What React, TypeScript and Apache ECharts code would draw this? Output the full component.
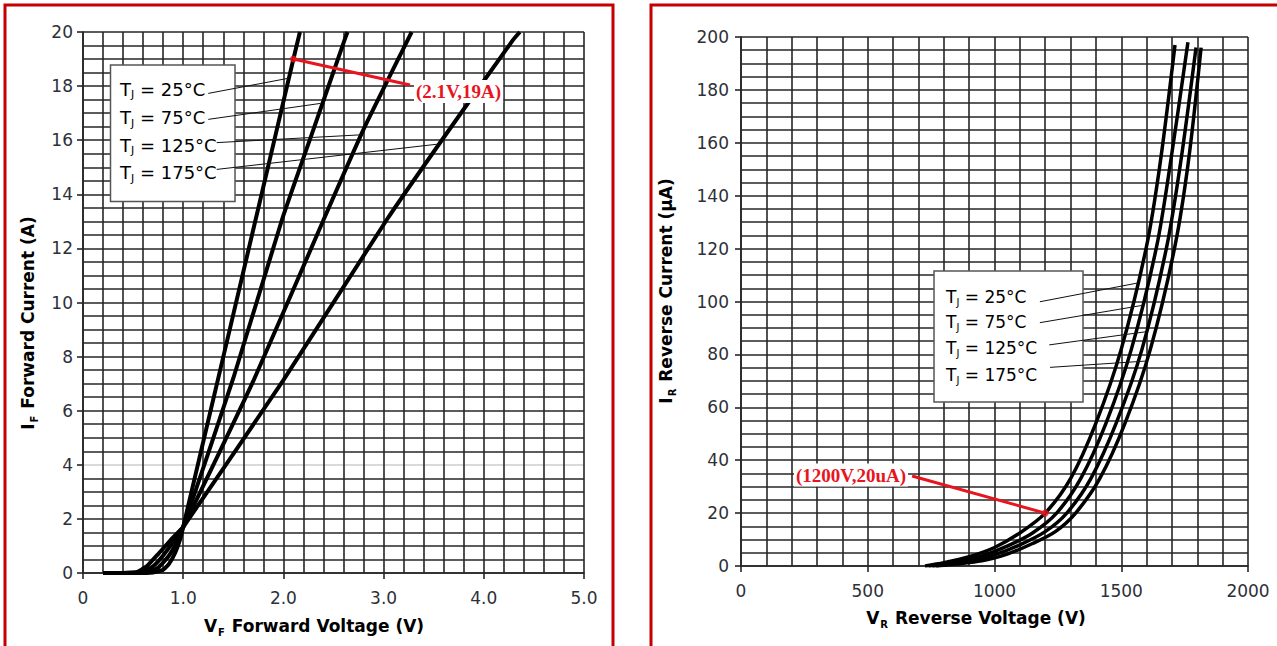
import React, { useEffect, useRef } from "react";
import * as echarts from "echarts";

// Forward characteristics, V_F (V) vs I_F (A), per junction temperature
const fwd25: number[][] = [[0.2, 0], [0.5, 0], [0.7, 0.02], [0.8, 0.12], [0.86, 0.35], [0.92, 0.75], [0.97, 1.25], [1.0, 1.7], [1.2, 4.85], [1.5, 9.56], [1.8, 14.28], [2.1, 19], [2.165, 20]];
const fwd75: number[][] = [[0.2, 0], [0.5, 0], [0.65, 0.03], [0.75, 0.2], [0.85, 0.6], [0.93, 1.1], [1.0, 1.7], [1.5, 7.2], [1.985, 13.05], [2.3, 16.4], [2.61, 19.7], [2.64, 20]];
const fwd125: number[][] = [[0.2, 0], [0.45, 0], [0.6, 0.04], [0.7, 0.25], [0.8, 0.65], [0.9, 1.15], [1.0, 1.7], [1.7, 7.1], [2.4, 13.05], [2.8, 16.4], [3.24, 19.7], [3.28, 20]];
const fwd175: number[][] = [[0.2, 0], [0.4, 0], [0.55, 0.05], [0.65, 0.3], [0.75, 0.7], [0.87, 1.2], [1.0, 1.7], [2.0, 7.13], [3.03, 13.05], [3.6, 16.1], [4.29, 19.7], [4.36, 20]];

// Reverse characteristics, V_R (V) vs I_R (µA)
const rev25: number[][] = [[726, 0], [800, 1.2], [900, 3.5], [1000, 7], [1100, 12.5], [1200, 20], [1300, 33], [1400, 54], [1500, 82], [1600, 121], [1653, 152], [1712, 197]];
const rev75: number[][] = [[740, 0], [850, 1.5], [950, 3.8], [1050, 7.5], [1150, 12.5], [1245, 20], [1340, 33], [1440, 54], [1540, 82], [1640, 121], [1695, 153], [1763, 198]];
const rev125: number[][] = [[755, 0], [900, 1.8], [1000, 4.2], [1100, 8], [1200, 13], [1285, 20], [1380, 33], [1480, 54], [1582, 82], [1680, 121], [1735, 153], [1795, 196]];
const rev175: number[][] = [[770, 0], [950, 2], [1050, 4.5], [1150, 8.5], [1240, 13], [1320, 20], [1415, 33], [1515, 54], [1615, 82], [1712, 121], [1765, 153], [1815, 196]];

const tempLabels = ["25", "75", "125", "175"];

// Leader lines from legend entries to their curves: [start, end] in data units
const fwdLeaders: number[][][] = [
  [[1.25, 17.73], [2.051, 18.29]],
  [[1.25, 16.77], [2.37, 17.36]],
  [[1.334, 15.91], [2.78, 16.2]],
  [[1.334, 14.92], [3.53, 15.85]],
];
const revLeaders: number[][][] = [
  [[1179, 99.9], [1565, 107]],
  [[1179, 92.0], [1581, 98.5]],
  [[1216, 83.6], [1600, 88.6]],
  [[1219, 75.1], [1600, 77.5]],
];

// Highlighted operating points
const fwdPoint = [2.1, 19];
const fwdPointText = "(2.1V,19A)";
const fwdCallout = [3.264, 18.04];
const revPoint = [1200, 20];
const revPointText = "(1200V,20uA)";
const revCallout = [675, 34.0];

const fwdTicksY = [0, 20, 2, 4];
const fwdTicksX = [0, 5, 1, 5];
const revTicksY = [0, 200, 20, 4];
const revTicksX = [0, 2000, 500, 5];

const GRID = "#262626";
const LABEL = "#2d3038";
const RED = "#e8141e";
const SANS = "DejaVu Sans, Verdana, sans-serif";
const SERIF = "Liberation Serif, Times New Roman, serif";

function valueAxis(gridIndex: number, t: number[], fmt: (v: number) => string, margin: number, splitColors?: string[]) {
  return {
    type: "value",
    gridIndex,
    min: t[0],
    max: t[1],
    interval: t[2],
    axisLine: { show: true, onZero: false, lineStyle: { color: GRID, width: 1.6 } },
    axisTick: { show: true, length: 6, lineStyle: { color: GRID, width: 1.6 } },
    minorTick: { show: false, splitNumber: t[3] },
    splitLine: { show: true, lineStyle: { color: splitColors || GRID, width: 1.6 } },
    minorSplitLine: { show: true, lineStyle: { color: GRID, width: 1.6 } },
    axisLabel: { formatter: fmt, fontSize: 17, color: LABEL, fontFamily: SANS, margin },
  };
}

const richBase = {
  b: { fontSize: 17, fontWeight: "bold", fontFamily: SANS, color: "#222", lineHeight: 22 },
  s: { fontSize: 10, fontWeight: "bold", fontFamily: SANS, color: "#222", lineHeight: 10, verticalAlign: "bottom", padding: [0, 1, 0, 1] },
};

function axisTitle(x: number, y: number, main: string, sub: string, rest: string, vertical: boolean) {
  return {
    type: "text",
    x,
    y,
    rotation: vertical ? Math.PI / 2 : 0,
    z: 5,
    style: {
      text: `{b|${main}}{s|${sub}}{b| ${rest}}`,
      align: "center",
      verticalAlign: "middle",
      rich: richBase,
    },
  };
}

function legendTexts(x: number, ys: number[], size: number) {
  return tempLabels.map((t, i) => ({
    type: "text",
    x,
    y: ys[i],
    z: 1,
    style: {
      text: `{t|T}{s|J}{t| = ${t}°C}`,
      verticalAlign: "middle",
      rich: {
        t: { fontSize: size, fontFamily: SANS, color: "#333", lineHeight: size + 4 },
        s: { fontSize: Math.round(size * 0.6), fontFamily: SANS, color: "#333", lineHeight: 10, verticalAlign: "bottom" },
      },
    },
  }));
}

function curve(name: string, xi: number, data: number[][], width: number, smooth: number, leader: number[][]) {
  return {
    type: "line",
    name,
    xAxisIndex: xi,
    yAxisIndex: xi,
    data,
    showSymbol: false,
    symbol: "none",
    smooth,
    lineStyle: { color: "#000", width },
    z: 3,
    markLine: {
      silent: true,
      symbol: ["none", "none"],
      label: { show: false },
      lineStyle: { color: "#111", width: 1, type: "solid" },
      data: [[{ coord: leader[0] }, { coord: leader[1] }]],
    },
  };
}

function callout(xi: number, point: number[], end: number[]) {
  return {
    type: "scatter",
    xAxisIndex: xi,
    yAxisIndex: xi,
    data: [point],
    symbol: "circle",
    symbolSize: 7,
    itemStyle: { color: RED },
    z: 6,
    markLine: {
      silent: true,
      symbol: ["none", "none"],
      label: { show: false },
      lineStyle: { color: RED, width: 3, type: "solid" },
      data: [[{ coord: point }, { coord: end }]],
    },
  };
}

export default function App() {
  const ref = useRef<HTMLDivElement>(null);

  useEffect(() => {
    if (!ref.current) return;
    const chart = echarts.init(ref.current, undefined, { renderer: "svg" });
    const fwdSplitColors = [GRID, GRID, "#cdcdcd", GRID, GRID, GRID, GRID, GRID, GRID, GRID, GRID];

    chart.setOption({
      animation: false,
      backgroundColor: "#fff",
      grid: [
        { left: 83, top: 32, width: 501, height: 541 },
        { left: 741, top: 37, width: 507, height: 529 },
      ],
      xAxis: [
        valueAxis(0, fwdTicksX, (v) => (v === 0 ? "0" : v.toFixed(1)), 16),
        valueAxis(1, revTicksX, (v) => String(v), 16),
      ],
      yAxis: [
        valueAxis(0, fwdTicksY, (v) => String(v), 10, fwdSplitColors),
        valueAxis(1, revTicksY, (v) => String(v), 12),
      ],
      series: [
        curve("TJ = 25°C", 0, fwd25, 4, 0.15, fwdLeaders[0]),
        curve("TJ = 75°C", 0, fwd75, 4, 0.15, fwdLeaders[1]),
        curve("TJ = 125°C", 0, fwd125, 4, 0.15, fwdLeaders[2]),
        curve("TJ = 175°C", 0, fwd175, 4, 0.15, fwdLeaders[3]),
        curve("TJ = 25°C", 1, rev25, 3.5, 0.3, revLeaders[0]),
        curve("TJ = 75°C", 1, rev75, 3.5, 0.3, revLeaders[1]),
        curve("TJ = 125°C", 1, rev125, 3.5, 0.3, revLeaders[2]),
        curve("TJ = 175°C", 1, rev175, 3.5, 0.3, revLeaders[3]),
        callout(0, fwdPoint, fwdCallout),
        callout(1, revPoint, revCallout),
      ],
      graphic: [
        // panel frames
        { type: "rect", z: 0, shape: { x: 5, y: 5, width: 608, height: 660 }, style: { fill: "none", stroke: "#c40000", lineWidth: 3 } },
        { type: "rect", z: 0, shape: { x: 651, y: 5, width: 640, height: 660 }, style: { fill: "none", stroke: "#c40000", lineWidth: 3 } },
        // legend boxes
        { type: "rect", z: 1, shape: { x: 110.5, y: 65, width: 124.5, height: 136.5 }, style: { fill: "#fff", stroke: "#555", lineWidth: 1.5 } },
        { type: "rect", z: 1, shape: { x: 934, y: 271, width: 149, height: 131 }, style: { fill: "#fff", stroke: "#555", lineWidth: 1.5 } },
        ...legendTexts(120, [89.3, 117.7, 145, 172.7], 18),
        ...legendTexts(946, [297.3, 321.7, 348.3, 375], 17),
        // callout labels
        {
          type: "text", x: 414, y: 91.5, z: 7,
          style: { text: fwdPointText, fill: RED, font: `bold 19px ${SERIF}`, verticalAlign: "middle", backgroundColor: "#fff", padding: [2, 2] },
        },
        {
          type: "text", x: 908, y: 475, z: 7,
          style: { text: revPointText, fill: RED, font: `bold 19px ${SERIF}`, align: "right", verticalAlign: "middle", backgroundColor: "#fff", padding: [2, 2] },
        },
        // axis titles
        axisTitle(314, 626, "V", "F", "Forward Voltage (V)", false),
        axisTitle(28, 323, "I", "F", "Forward Current (A)", true),
        axisTitle(976, 618, "V", "R", "Reverse Voltage (V)", false),
        axisTitle(666, 291, "I", "R", "Reverse Current (µA)", true),
      ],
    });
    return () => chart.dispose();
  }, []);

  return <div ref={ref} style={{ position: "fixed", left: 0, top: 0, width: 1277, height: 646, background: "#fff" }} />;
}
